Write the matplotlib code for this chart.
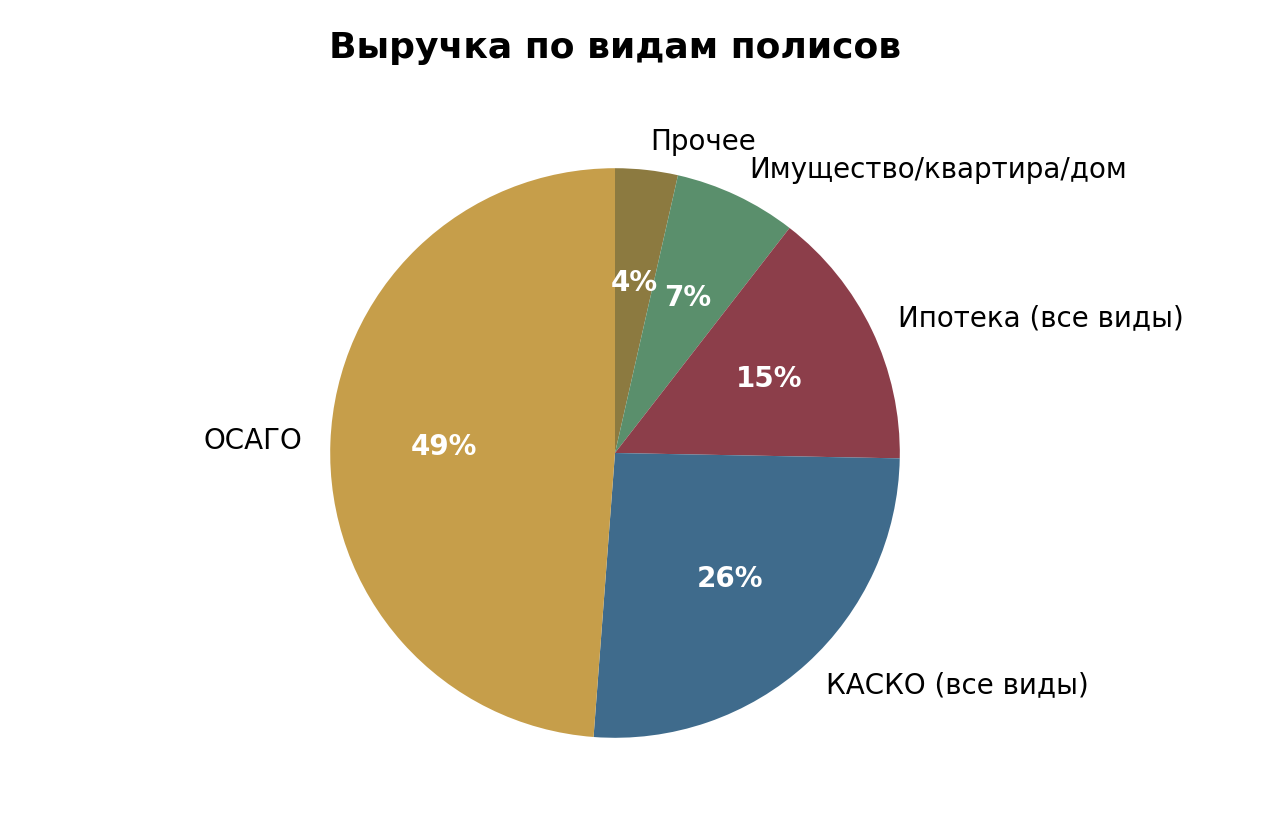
import matplotlib
matplotlib.use("Agg")
from matplotlib import pyplot as plt

labels = ["Прочее", "Имущество/квартира/дом", "Ипотека (все виды)", "КАСКО (все виды)", "ОСАГО"]
values = [3.55, 6.95, 14.8, 25.9, 48.8]
colors = ["#8C7A40", "#5A8F6C", "#8C3E4A", "#3F6B8C", "#C69E4A"]

fig = plt.figure(figsize=(12.8, 8.4), dpi=100)
ax = fig.add_axes([259 / 1280, 31 / 840, 712 / 1280, 712 / 840])

wedges, texts, autotexts = ax.pie(values, labels=labels, colors=colors,
                                  startangle=90, counterclock=False,
                                  autopct='%1.0f%%', pctdistance=0.6,
                                  labeldistance=1.1,
                                  textprops={'fontsize': 20})
for t in autotexts:
    t.set_color('white')
    t.set_fontweight('bold')
    t.set_fontsize(20)

ax.set_title("Выручка по видам полисов", fontsize=26, fontweight='bold', pad=28)
ax.axis('equal')
ax.set_xlim(-1.25, 1.25)
ax.set_ylim(-1.25, 1.25)

fig.savefig("out.png", dpi=100)
